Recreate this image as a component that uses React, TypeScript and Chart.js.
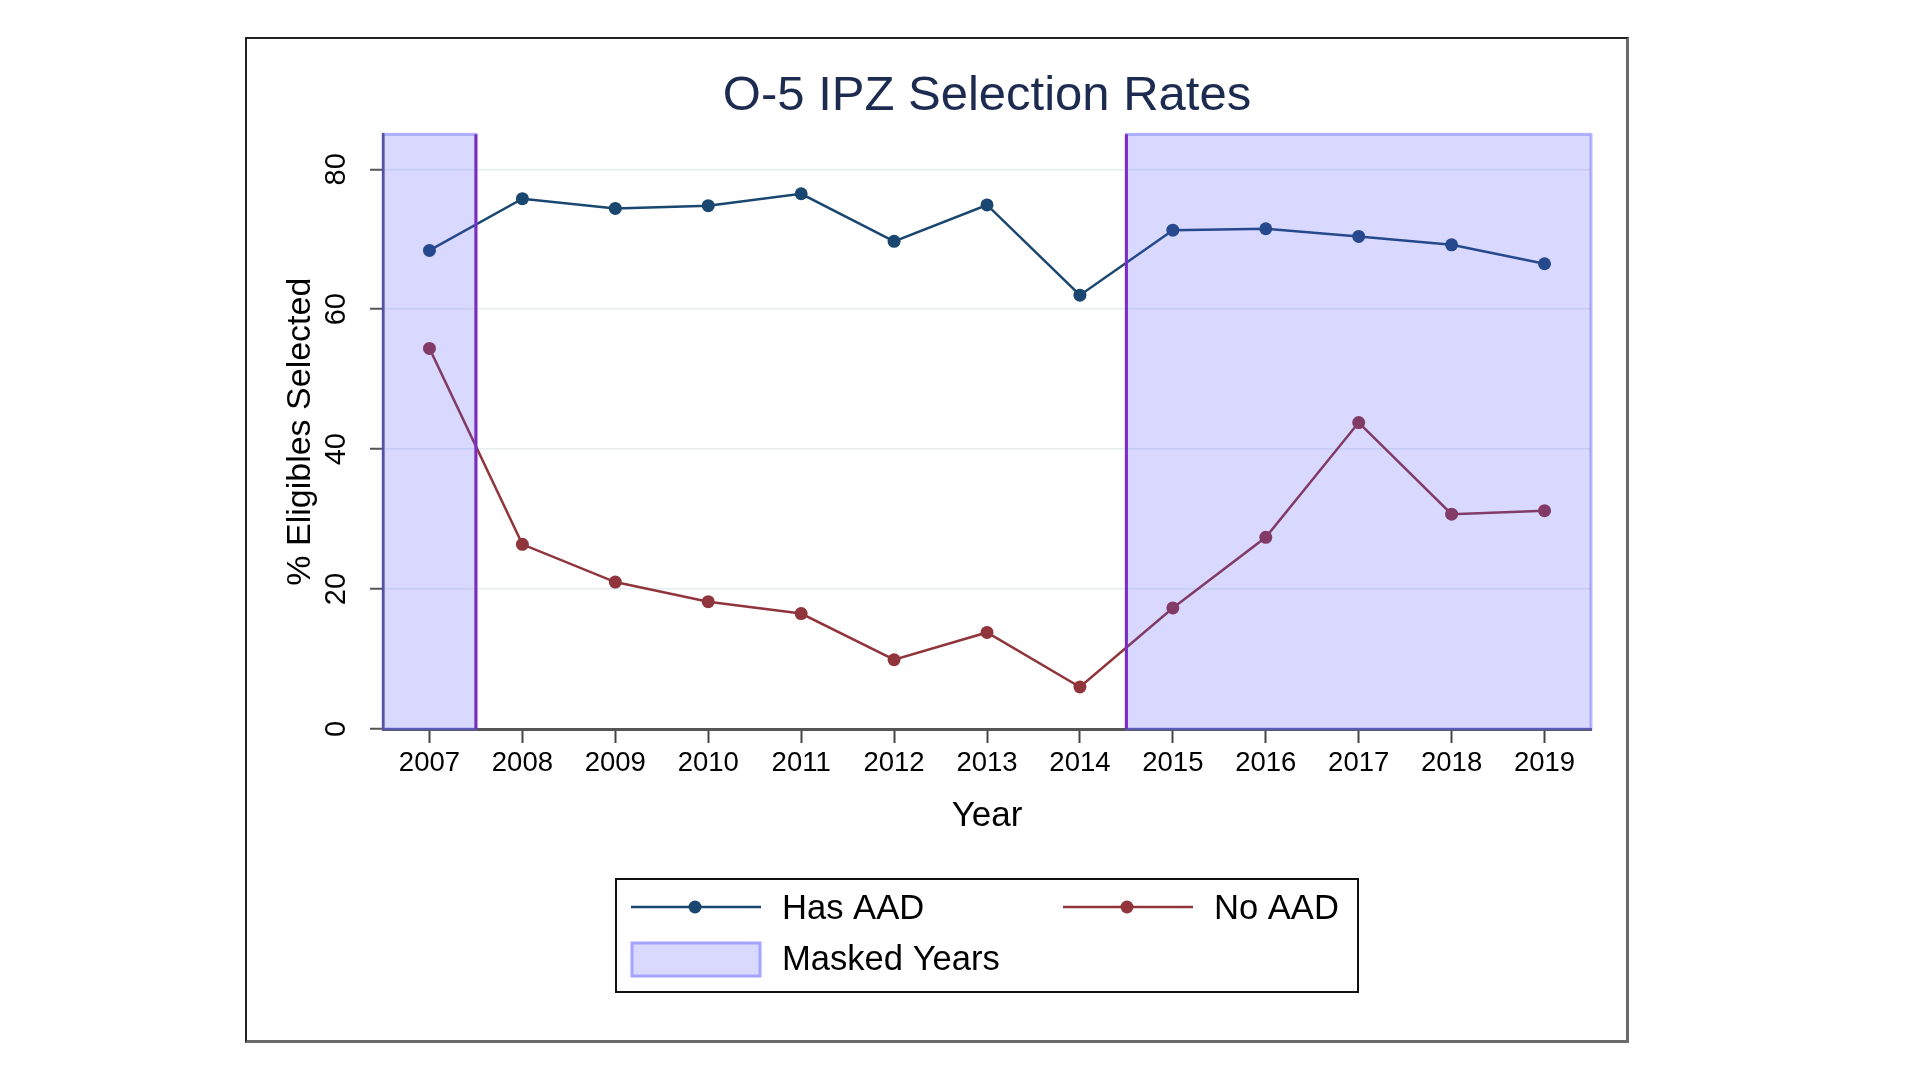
import React, { useEffect, useRef } from "react";
import { Chart, registerables } from "chart.js";

Chart.register(...registerables);

// ---- data ----
const years = [2007, 2008, 2009, 2010, 2011, 2012, 2013, 2014, 2015, 2016, 2017, 2018, 2019];
const hasAAD = [68.4, 75.8, 74.4, 74.8, 76.5, 69.7, 74.9, 62.0, 71.3, 71.5, 70.4, 69.2, 66.5];
const noAAD = [54.4, 26.4, 21.0, 18.2, 16.5, 9.9, 13.8, 6.0, 17.3, 27.4, 43.8, 30.7, 31.2];
const seriesNames = ["Has AAD", "No AAD"];
const seriesColors = ["#1a476f", "#90353b"];
const maskStart = [2006.5, 2014.5];
const maskEnd = [2007.5, 2019.5];
const maskTop = 85;
const maskLabel = "Masked Years";
const xLines = [2007.5, 2014.5];
const yTicks = [0, 20, 40, 60, 80];
const xMin = 2006.5;
const xMax = 2019.5;
const yMin = 0;
const yMax = 85;
const titleText = "O-5 IPZ Selection Rates";
const xTitleText = "Year";
const yTitleText = "% Eligibles Selected";

const FONT = '"Liberation Sans", Arial, Helvetica, sans-serif';

const maskPlugin = {
  id: "maskedYears",
  afterDatasetsDraw(chart: any) {
    const { ctx, scales } = chart;
    const xs = scales.x;
    const ys = scales.y;
    const yT = ys.getPixelForValue(maskTop);
    const yB = ys.getPixelForValue(0);
    ctx.save();
    for (let i = 0; i < maskStart.length; i++) {
      const x0 = xs.getPixelForValue(maskStart[i]);
      const x1 = xs.getPixelForValue(maskEnd[i]);
      ctx.fillStyle = "rgba(80,80,255,0.22)";
      ctx.fillRect(x0, yT, x1 - x0, yB - yT);
      ctx.strokeStyle = "rgba(100,100,255,0.45)";
      ctx.lineWidth = 3;
      ctx.strokeRect(x0, yT, x1 - x0, yB - yT);
    }
    ctx.strokeStyle = "#7b2cbf";
    ctx.lineWidth = 3;
    for (const v of xLines) {
      const x = xs.getPixelForValue(v);
      ctx.beginPath();
      ctx.moveTo(x, yT);
      ctx.lineTo(x, yB);
      ctx.stroke();
    }
    ctx.restore();
  },
};

const legendPlugin = {
  id: "stataLegend",
  afterDraw(chart: any) {
    const { ctx, chartArea } = chart;
    const cx = (chartArea.left + chartArea.right) / 2;
    const top = chartArea.bottom + 150;
    const w = 742;
    const h = 113;
    ctx.save();
    ctx.fillStyle = "#ffffff";
    ctx.fillRect(cx - w / 2, top, w, h);
    ctx.strokeStyle = "#111111";
    ctx.lineWidth = 2;
    ctx.strokeRect(cx - w / 2, top, w, h);
    ctx.font = `34.6px ${FONT}`;
    ctx.textBaseline = "alphabetic";
    ctx.textAlign = "left";
    const cols = [-356, 76];
    const rowY = top + 28;
    chart.data.datasets.forEach((ds: any, i: number) => {
      const x0 = cx + cols[i];
      ctx.strokeStyle = ds.borderColor;
      ctx.lineWidth = 2.5;
      ctx.beginPath();
      ctx.moveTo(x0, rowY);
      ctx.lineTo(x0 + 130, rowY);
      ctx.stroke();
      ctx.fillStyle = ds.borderColor;
      ctx.beginPath();
      ctx.arc(x0 + 64, rowY, 6.5, 0, Math.PI * 2);
      ctx.fill();
      ctx.fillStyle = "#000000";
      ctx.fillText(ds.label, x0 + 151, rowY + 12);
    });
    const r2 = top + 80;
    const rx = cx - 355;
    ctx.fillStyle = "#d9d9fd";
    ctx.fillRect(rx, top + 64, 128, 33);
    ctx.strokeStyle = "#a4a4ff";
    ctx.lineWidth = 3;
    ctx.strokeRect(rx, top + 64, 128, 33);
    ctx.fillStyle = "#000000";
    ctx.fillText(maskLabel, cx - 205, r2 + 11);
    ctx.restore();
  },
};

export default function App() {
  const ref = useRef<HTMLCanvasElement | null>(null);

  useEffect(() => {
    if (!ref.current) return;
    const chart = new Chart(ref.current, {
      type: "line",
      data: {
        datasets: [
          {
            label: seriesNames[0],
            data: years.map((x, i) => ({ x, y: hasAAD[i] })),
            borderColor: seriesColors[0],
            backgroundColor: seriesColors[0],
            pointBackgroundColor: seriesColors[0],
            borderWidth: 2.5,
            pointRadius: 6.5,
            pointBorderWidth: 0,
            tension: 0,
          },
          {
            label: seriesNames[1],
            data: years.map((x, i) => ({ x, y: noAAD[i] })),
            borderColor: seriesColors[1],
            backgroundColor: seriesColors[1],
            pointBackgroundColor: seriesColors[1],
            borderWidth: 2.5,
            pointRadius: 6.5,
            pointBorderWidth: 0,
            tension: 0,
          },
        ],
      },
      options: {
        responsive: false,
        animation: false,
        devicePixelRatio: 1,
        layout: { padding: { left: 0, right: 136, top: 0, bottom: 204 } },
        plugins: {
          legend: { display: false },
          tooltip: { enabled: false },
          title: {
            display: true,
            text: titleText,
            fullSize: false,
            color: "#1c2b4f",
            font: { size: 49, family: FONT, weight: "normal" },
            padding: { top: 28.5, bottom: 8 },
          },
        },
        scales: {
          x: {
            type: "linear",
            min: xMin,
            max: xMax,
            afterBuildTicks: (s: any) => {
              s.ticks = years.map((v) => ({ value: v }));
            },
            afterFit: (s: any) => {
              s.height = 108;
            },
            ticks: {
              autoSkip: false,
              maxRotation: 0,
              minRotation: 0,
              padding: 3.5,
              color: "#000000",
              font: { size: 27.5, family: FONT },
              callback: (v: any) => String(v),
            },
            grid: {
              drawOnChartArea: false,
              drawTicks: true,
              tickLength: 14,
              tickColor: "#444444",
              tickWidth: 2,
            },
            border: { display: true, color: "#555555", width: 3 },
            title: {
              display: true,
              text: xTitleText,
              color: "#000000",
              font: { size: 35, family: FONT },
              padding: { top: 0, bottom: 0 },
            },
          },
          y: {
            type: "linear",
            min: yMin,
            max: yMax,
            afterBuildTicks: (s: any) => {
              s.ticks = yTicks.map((v) => ({ value: v }));
            },
            afterFit: (s: any) => {
              s.width = 136;
            },
            ticks: {
              minRotation: 90,
              maxRotation: 90,
              crossAlign: "center",
              padding: 17,
              color: "#000000",
              font: { size: 29, family: FONT },
              callback: (v: any) => String(v),
            },
            grid: {
              drawTicks: true,
              tickLength: 13,
              tickColor: "#555555",
              tickWidth: 2,
              lineWidth: 1.5,
              color: (c: any) => (c.tick && c.tick.value === 0 ? "rgba(0,0,0,0)" : "#e6eef0"),
            },
            border: { display: true, color: "#444444", width: 2.5 },
            title: {
              display: true,
              text: yTitleText,
              color: "#000000",
              font: { size: 34, family: FONT },
              padding: { top: 33, bottom: 0 },
            },
          },
        },
      },
      plugins: [maskPlugin, legendPlugin],
    } as any);
    return () => chart.destroy();
  }, []);

  return (
    <div style={{ position: "absolute", left: 0, top: 0, width: 1920, height: 1080, background: "#ffffff" }}>
      <div
        style={{
          position: "absolute",
          left: 245,
          top: 37,
          width: 1384,
          height: 1006,
          boxSizing: "border-box",
          borderTop: "2px solid #222222",
          borderLeft: "2px solid #222222",
          borderRight: "3px solid #6a6a6a",
          borderBottom: "3px solid #6a6a6a",
          background: "#ffffff",
        }}
      />
      <canvas
        ref={ref}
        width={1480}
        height={1002}
        style={{ position: "absolute", left: 247, top: 39, width: 1480, height: 1002 }}
      />
    </div>
  );
}
